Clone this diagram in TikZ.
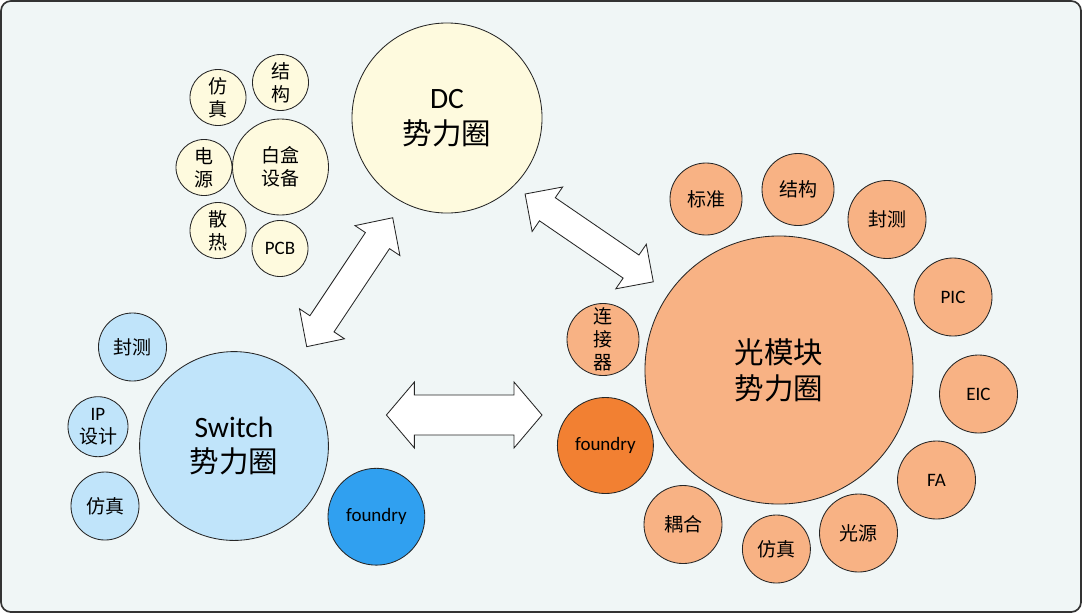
\documentclass[tikz,border=0pt]{standalone}
\usepackage{fontspec}
\setmainfont{Carlito}
\newfontfamily\cjk{Noto Sans CJK SC}
\usepackage{tikz}
\usetikzlibrary{shapes,positioning,calc}
\usepackage{xcolor}
\definecolor{bgcol}{RGB}{240,246,246}
\definecolor{dccol}{RGB}{254,250,222}
\definecolor{optcol}{RGB}{248,178,132}
\definecolor{optdark}{RGB}{242,128,50}
\definecolor{swcol}{RGB}{192,228,250}
\definecolor{swdark}{RGB}{48,160,240}

\begin{document}
\begin{tikzpicture}[x=0.025cm, y=-0.025cm,
    bubble/.style={circle, draw=black!85, line width=0.6pt, inner sep=-6pt, align=center, text=black, minimum size=#1},
    big/.style={font=\fontsize{21}{25.5}\selectfont},
    cbig/.style={font=\fontsize{21}{25.5}\selectfont\cjk},
    small/.style={font=\fontsize{13.5}{16.5}\selectfont},
    csmall/.style={font=\fontsize{13.5}{16.5}\selectfont\cjk},
    blockarrow/.style={draw=black!85, fill=white, line width=0.6pt, line join=miter}]
    \useasboundingbox (0,0) rectangle (1082,613);
    % frame
    \draw[line width=1.2pt, draw=black!80, fill=bgcol, rounded corners=7pt] (1,1) rectangle (1081,612);

    % DC circle and its parts
    \node[bubble=4.75cm, fill=dccol, big] (dc) at (447,118) {DC\\{\cjk 势力圈}};
    \node[bubble=1.4cm, fill=dccol, csmall] (dcSim) at (218,97.5) {仿\\真};
    \node[bubble=1.4cm, fill=dccol, csmall] (dcStruct) at (280.5,82.5) {结\\构};
    \node[bubble=1.4cm, fill=dccol, csmall] (dcPower) at (204,167.5) {电\\源};
    \node[bubble=2.4cm, fill=dccol, csmall] (dcWhite) at (280.5,167) {白盒\\设备};
    \node[bubble=1.4cm, fill=dccol, csmall] (dcHeat) at (218,230.5) {散\\热};
    \node[bubble=1.4cm, fill=dccol, small] (dcPcb) at (280,248.5) {PCB};

    % Switch circle and its parts
    \node[bubble=4.72cm, fill=swcol, big] (sw) at (234,446) {Switch\\{\cjk 势力圈}};
    \node[bubble=1.7cm, fill=swcol, csmall] (swTest) at (132.5,347) {封测};
    \node[bubble=1.5cm, fill=swcol, small] (swIp) at (98,426.7) {IP\\{\cjk 设计}};
    \node[bubble=1.7cm, fill=swcol, csmall] (swSim) at (105,506) {仿真};
    \node[bubble=2.42cm, fill=swdark, small] (swFab) at (376.4,516.7) {foundry};

    % optical module circle and its parts
    \node[bubble=6.7cm, fill=optcol, cbig] (opt) at (779,370) {光模块\\势力圈};
    \node[bubble=1.8cm, fill=optcol, csmall] (optStd) at (706,199) {标准};
    \node[bubble=1.8cm, fill=optcol, csmall] (optStruct) at (798,189.5) {结构};
    \node[bubble=1.95cm, fill=optcol, csmall] (optTest) at (887,219.5) {封测};
    \node[bubble=1.95cm, fill=optcol, small] (optPic) at (953,297) {PIC};
    \node[bubble=1.95cm, fill=optcol, small] (optEic) at (978.5,394) {EIC};
    \node[bubble=1.95cm, fill=optcol, small] (optFa) at (936.5,480) {FA};
    \node[bubble=1.95cm, fill=optcol, csmall] (optLight) at (858.5,533) {光源};
    \node[bubble=1.7cm, fill=optcol, csmall] (optSim) at (776.4,549) {仿真};
    \node[bubble=1.95cm, fill=optcol, csmall] (optCoup) at (683,524.5) {耦合};
    \node[bubble=2.4cm, fill=optdark, small] (optFab) at (605.4,445.5) {foundry};
    \node[bubble=1.8cm, fill=optcol, csmall] (optConn) at (603,339.5) {连\\接\\器};

    % double block arrows between the circles
    \foreach \cx/\cy/\ang/\len/\sh/\hd/\hl in {349.7/282.2/56.3/77.5/14.5/27/27.5, 589.2/237.9/-34.4/77.7/14/27/27, 464.2/415/0/77.8/20/33/28} {
        \begin{scope}[shift={(\cx,\cy)}, rotate=\ang]
            \draw[blockarrow] (-\len,0) -- (-\len+\hl,-\hd) -- (-\len+\hl,-\sh) -- (\len-\hl,-\sh) -- (\len-\hl,-\hd) -- (\len,0)
                -- (\len-\hl,\hd) -- (\len-\hl,\sh) -- (-\len+\hl,\sh) -- (-\len+\hl,\hd) -- cycle;
        \end{scope}
    }
\end{tikzpicture}
\end{document}
